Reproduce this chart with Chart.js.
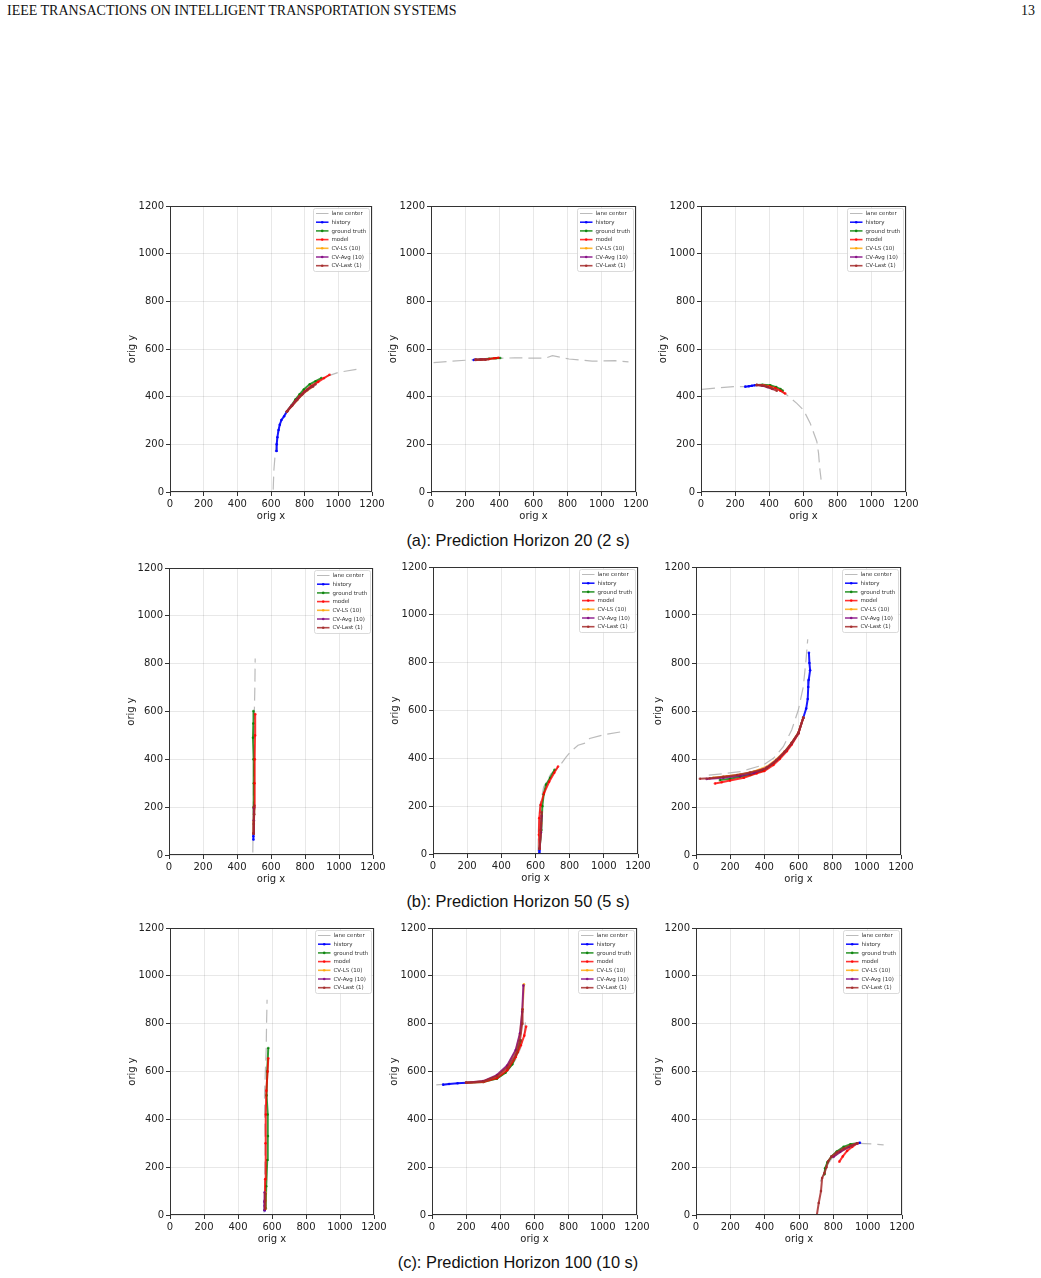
<!DOCTYPE html>
<html>
<head>
<meta charset="utf-8">
<script src="https://cdn.jsdelivr.net/npm/chart.js@4/dist/chart.umd.min.js"></script>
<style>
  html, body { margin: 0; padding: 0; background: #fff; }
  #page { position: relative; width: 1041px; height: 1278px; overflow: hidden; }
  .header { position: absolute; top: 3px; font-family: "Liberation Serif", serif; font-size: 14px; color: #111; }
  .caption { position: absolute; left: 0; width: 1036px; text-align: center; font-family: "Liberation Sans", Arial, sans-serif; font-size: 16.4px; color: #111; }
  .panel { position: absolute; }
</style>
</head>
<body>
<div id="page">
  <div class="header" style="left:7px">IEEE TRANSACTIONS ON INTELLIGENT TRANSPORTATION SYSTEMS</div>
  <div class="header" style="right:6px">13</div>
</div>
<script>
// ==============================
// DATA
// ==============================
const seriesLabels = ['lane center', 'history', 'ground truth', 'model', 'CV-LS (10)', 'CV-Avg (10)', 'CV-Last (1)'];
const axisTicks = [0, 200, 400, 600, 800, 1000, 1200];
const captions = [
  '(a): Prediction Horizon 20 (2 s)',
  '(b): Prediction Horizon 50 (5 s)',
  '(c): Prediction Horizon 100 (10 s)'
];

// (a) horizon 20 -- left
const a1Lane = [[613,10],[617,90],[626,170],[640,250],[662,305],[700,348],[750,390],[800,425],[860,455],[920,482],[1000,502],[1120,516]];
const a1History = [[632,172],[634,200],[638,230],[645,260],[652,282],[662,302],[678,318],[695,338]];
const a1Truth = [[695,338],[720,362],[745,388],[770,410],[795,430],[830,452],[865,465],[900,478]];
const a1Model = [[695,338],[720,360],[745,382],[770,402],[800,422],[840,445],[880,462],[915,478],[948,492]];
const a1CvLs = [[695,338],[725,362],[755,386],[785,408],[815,426],[850,442]];
const a1CvAvg = [[695,338],[725,364],[755,388],[785,410],[815,428],[850,444]];
const a1CvLast = [[695,338],[725,362],[755,386],[785,410],[815,430],[845,444],[865,452]];

// (a) middle
const a2Lane = [[15,543],[120,549],[228,554],[315,560],[402,561],[490,563],[576,562],[672,562],[711,572],[808,558],[943,549],[1078,551],[1156,546]];
const a2History = [[250,554],[256,555],[262,555]];
const a2Truth = [[262,555],[300,557],[340,559],[380,561],[405,562]];
const a2Model = [[262,555],[300,556],[340,558],[370,561],[395,563]];
const a2CvLs = [[262,555],[290,555],[320,556]];
const a2CvAvg = [[262,555],[290,556],[318,556]];
const a2CvLast = [[262,554],[290,555],[320,556],[335,557]];

// (a) right
const a3Lane = [[6,431],[100,437],[191,442],[260,442],[330,449],[400,444],[460,425],[503,407],[561,372],[600,344],[639,289],[678,212],[688,163],[695,100],[703,52]];
const a3History = [[259,442],[280,444],[298,446],[315,448],[327,449]];
const a3Truth = [[327,449],[360,450],[405,448],[440,440],[465,432],[479,425]];
const a3Model = [[327,449],[365,448],[400,444],[435,436],[465,425],[493,413]];
const a3CvLs = [[327,449],[360,447],[390,442],[420,434]];
const a3CvAvg = [[327,449],[360,446],[390,440],[420,432]];
const a3CvLast = [[327,449],[355,448],[385,442],[415,434],[444,425]];

// (b) horizon 50 -- left
const b1Lane = [[493,10],[496,200],[499,400],[502,600],[505,700],[507,822]];
const b1History = [[496,65],[496,78],[497,90]];
const b1Truth = [[497,90],[498,200],[499,300],[497,400],[494,490],[496,550],[497,602]];
const b1Model = [[497,90],[500,200],[503,300],[505,400],[506,500],[507,589]];
const b1CvLs = [[497,90],[499,140],[501,190]];
const b1CvAvg = [[497,90],[499,145],[500,195]];
const b1CvLast = [[497,90],[499,130],[501,170],[502,207]];

// (b) middle
const b2Lane = [[615,10],[617,100],[625,200],[648,280],[690,335],[738,365],[780,406],[804,427],[849,455],[898,465],[917,483],[1015,501],[1112,512]];
const b2History = [[622,5],[623,14],[624,22]];
const b2Truth = [[624,22],[634,100],[640,200],[648,250],[662,290],[685,318],[712,352]];
const b2Model = [[624,22],[620,80],[622,150],[630,205],[650,255],[680,302],[710,340],[732,366]];
const b2CvLs = [[624,22],[630,80],[634,130]];
const b2CvAvg = [[624,22],[632,90],[636,160]];
const b2CvLast = [[624,22],[630,100],[636,175]];

// (b) right
const b3Lane = [[75,333],[121,336],[258,347],[394,375],[453,403],[511,451],[560,521],[599,604],[628,701],[644,812],[654,899]];
const b3History = [[661,843],[664,800],[668,770],[660,730],[657,700],[654,650],[645,610],[628,572]];
const b3Truth = [[628,572],[599,507],[560,465],[531,437],[490,405],[453,382],[394,352],[320,334],[258,326],[200,318],[140,312]];
const b3Model = [[628,572],[599,505],[560,460],[531,432],[490,400],[453,375],[400,350],[355,340],[280,322],[199,310],[150,303],[111,298]];
const b3CvLs = [[628,572],[599,510],[560,468],[520,432],[470,398],[414,368],[340,348],[260,335],[180,328],[100,322]];
const b3CvAvg = [[628,572],[599,508],[560,466],[520,430],[470,395],[414,364],[340,343],[260,330],[160,322],[62,317]];
const b3CvLast = [[628,572],[599,508],[560,466],[520,430],[470,394],[414,361],[316,344],[240,333],[160,326],[80,320],[23,318]];

// (c) horizon 100 -- left
const c1Lane = [[553,10],[556,100],[560,300],[556,500],[566,700],[568,800],[571,900]];
const c1History = [[557,20],[558,40],[558,60]];
const c1Truth = [[563,28],[566,120],[572,230],[576,330],[574,420],[568,500],[572,600],[578,698]];
const c1Model = [[558,35],[560,150],[562,300],[564,420],[567,520],[574,600],[578,655]];
const c1CvLs = [[560,25],[560,60],[561,95]];
const c1CvAvg = [[556,20],[555,55],[557,95]];
const c1CvLast = [[559,25],[560,60],[561,90]];

// (c) middle
const c2Lane = [[25,544],[100,548],[200,552],[300,556],[380,570],[440,600],[490,650],[520,700],[540,760],[551,830]];
const c2History = [[65,545],[100,548],[150,551],[200,553]];
const c2Truth = [[200,553],[300,556],[380,570],[430,595],[470,630],[500,680],[520,730]];
const c2Model = [[200,553],[300,556],[380,572],[440,605],[490,660],[520,710],[540,750],[551,788]];
const c2CvLs = [[200,553],[300,559],[380,583],[440,622],[490,686],[515,755],[530,860],[538,965]];
const c2CvAvg = [[200,553],[300,560],[380,585],[440,625],[490,690],[515,760],[528,850],[535,960]];
const c2CvLast = [[200,553],[300,558],[380,580],[440,615],[490,670],[515,730],[528,800],[530,860]];

// (c) right
const c3Lane = [[724,140],[745,175],[765,210],[800,245],[850,270],[900,290],[940,300],[1035,297],[1093,293]];
const c3History = [[955,302],[948,301],[940,300]];
const c3Truth = [[940,300],[900,296],[860,285],[820,265],[790,245],[765,220],[752,195],[748,170]];
const c3Model = [[940,300],[910,285],[880,268],[855,245],[835,223]];
const c3CvLs = [[940,300],[890,285],[840,265],[800,245]];
const c3CvAvg = [[940,300],[890,284],[840,264],[800,243]];
const c3CvLast = [[940,300],[900,290],[860,278],[820,262],[790,245],[770,225],[760,200],[748,175],[735,155],[728,100],[715,50],[704,0]];

const panelSeries = [
  [a1Lane, a1History, a1Truth, a1Model, a1CvLs, a1CvAvg, a1CvLast],
  [a2Lane, a2History, a2Truth, a2Model, a2CvLs, a2CvAvg, a2CvLast],
  [a3Lane, a3History, a3Truth, a3Model, a3CvLs, a3CvAvg, a3CvLast],
  [b1Lane, b1History, b1Truth, b1Model, b1CvLs, b1CvAvg, b1CvLast],
  [b2Lane, b2History, b2Truth, b2Model, b2CvLs, b2CvAvg, b2CvLast],
  [b3Lane, b3History, b3Truth, b3Model, b3CvLs, b3CvAvg, b3CvLast],
  [c1Lane, c1History, c1Truth, c1Model, c1CvLs, c1CvAvg, c1CvLast],
  [c2Lane, c2History, c2Truth, c2Model, c2CvLs, c2CvAvg, c2CvLast],
  [c3Lane, c3History, c3Truth, c3Model, c3CvLs, c3CvAvg, c3CvLast]
];

// ==============================
// LAYOUT / STYLE
// ==============================
// plot area of each panel on the page: [left, top, width, height]
const panelBoxes = [
  [170, 206, 202, 286], [431, 206, 205, 286], [701, 206, 205, 286],
  [169, 568, 204, 287], [433, 567, 205, 287], [696, 567, 205, 288],
  [170, 928, 204, 287], [432, 928, 205, 287], [696, 928, 206, 287]
];
const captionTops = [531, 892, 1253];

const seriesColors = [
  'rgba(170,170,170,0.8)',
  'rgba(0,0,255,0.9)',
  'rgba(0,128,0,0.8)',
  'rgba(255,0,0,0.8)',
  'rgba(255,165,0,0.8)',
  'rgba(128,0,128,0.8)',
  'rgba(165,42,42,0.85)'
];

const Y_AXIS_W = 50;
const X_AXIS_H = 36;
const PAD_TOP = 10;
const PAD_RIGHT = 16;

Chart.defaults.font.family = '"DejaVu Sans", sans-serif';
Chart.defaults.font.size = 10;
Chart.defaults.color = '#222';

// ==============================
// PLUGINS
// ==============================
const frameBox = {
  id: 'frameBox',
  afterDraw(chart) {
    const { ctx, chartArea: a } = chart;
    ctx.save();
    ctx.strokeStyle = '#333';
    ctx.lineWidth = 1;
    ctx.strokeRect(Math.round(a.left) + 0.5, Math.round(a.top) + 0.5,
      Math.round(a.right - a.left) - 1, Math.round(a.bottom - a.top) - 1);
    ctx.restore();
  }
};

const insetLegend = {
  id: 'insetLegend',
  afterDraw(chart) {
    const { ctx, chartArea } = chart;
    const w = 56, h = 63, rowH = 8.7;
    const x0 = chartArea.right - w - 3;
    const y0 = chartArea.top + 2;
    ctx.save();
    ctx.beginPath();
    ctx.roundRect(x0 + 0.5, y0 + 0.5, w, h, 2);
    ctx.fillStyle = 'rgba(255,255,255,0.85)';
    ctx.fill();
    ctx.strokeStyle = '#d0d0d0';
    ctx.lineWidth = 0.8;
    ctx.stroke();

    ctx.font = '5.5px "DejaVu Sans"';
    ctx.textBaseline = 'middle';
    seriesLabels.forEach((label, i) => {
      const y = y0 + 5.5 + i * rowH;
      ctx.strokeStyle = seriesColors[i];
      ctx.lineWidth = i === 0 ? 1 : 1.6;
      ctx.beginPath();
      ctx.moveTo(x0 + 3, y);
      ctx.lineTo(x0 + 15.5, y);
      ctx.stroke();
      if (i > 0) {
        ctx.fillStyle = seriesColors[i];
        ctx.beginPath();
        ctx.arc(x0 + 9.2, y, 1.3, 0, Math.PI * 2);
        ctx.fill();
      }
      ctx.fillStyle = '#333';
      ctx.fillText(label, x0 + 18.5, y + 0.3);
    });
    ctx.restore();
  }
};

// ==============================
// CHARTS
// ==============================
function buildDatasets(series) {
  return series.map((pts, i) => ({
    label: seriesLabels[i],
    data: pts.map(([x, y]) => ({ x, y })),
    showLine: true,
    borderColor: seriesColors[i],
    backgroundColor: seriesColors[i],
    borderWidth: i === 0 ? 1.2 : 2,
    borderDash: i === 0 ? [13, 6] : [],
    pointRadius: i === 0 ? 0 : 1.3,
    pointBorderWidth: 0,
    tension: 0,
    order: series.length - i
  }));
}

function axisOptions(title, isX) {
  return {
    type: 'linear',
    min: axisTicks[0],
    max: axisTicks[axisTicks.length - 1],
    afterBuildTicks: (axis) => { axis.ticks = axisTicks.map(v => ({ value: v })); },
    afterFit: (axis) => {
      if (isX) axis.height = X_AXIS_H; else axis.width = Y_AXIS_W;
    },
    ticks: {
      padding: 2,
      autoSkip: false,
      maxRotation: 0,
      font: { size: 10 },
      color: '#222',
      callback: (v) => String(v)
    },
    grid: { color: 'rgba(0,0,0,0.09)', lineWidth: 1, tickLength: 4, tickColor: '#333', drawTicks: true },
    border: { display: false },
    title: {
      display: true,
      text: title,
      font: { size: 10 },
      color: '#222',
      padding: isX ? { top: 0, bottom: 6 } : { top: 6, bottom: 0 }
    }
  };
}

function makePanel(idx) {
  const [left, top, w, h] = panelBoxes[idx];
  const cw = w + Y_AXIS_W + PAD_RIGHT;
  const ch = h + PAD_TOP + X_AXIS_H;

  const holder = document.createElement('div');
  holder.className = 'panel';
  holder.style.left = (left - Y_AXIS_W) + 'px';
  holder.style.top = (top - PAD_TOP) + 'px';
  holder.style.width = cw + 'px';
  holder.style.height = ch + 'px';

  const canvas = document.createElement('canvas');
  canvas.width = cw;
  canvas.height = ch;
  canvas.style.width = cw + 'px';
  canvas.style.height = ch + 'px';
  holder.appendChild(canvas);
  document.getElementById('page').appendChild(holder);

  new Chart(canvas.getContext('2d'), {
    type: 'scatter',
    data: { datasets: buildDatasets(panelSeries[idx]) },
    options: {
      responsive: false,
      animation: false,
      layout: { padding: { top: PAD_TOP, right: PAD_RIGHT, left: 0, bottom: 0 } },
      plugins: { legend: { display: false }, tooltip: { enabled: false } },
      scales: {
        x: axisOptions('orig x', true),
        y: axisOptions('orig y', false)
      }
    },
    plugins: [frameBox, insetLegend]
  });
}

// ==============================
// INITIALIZATION
// ==============================
panelBoxes.forEach((_, i) => makePanel(i));

captions.forEach((text, i) => {
  const el = document.createElement('div');
  el.className = 'caption';
  el.style.top = captionTops[i] + 'px';
  el.textContent = text;
  document.getElementById('page').appendChild(el);
});
</script>
</body>
</html>
